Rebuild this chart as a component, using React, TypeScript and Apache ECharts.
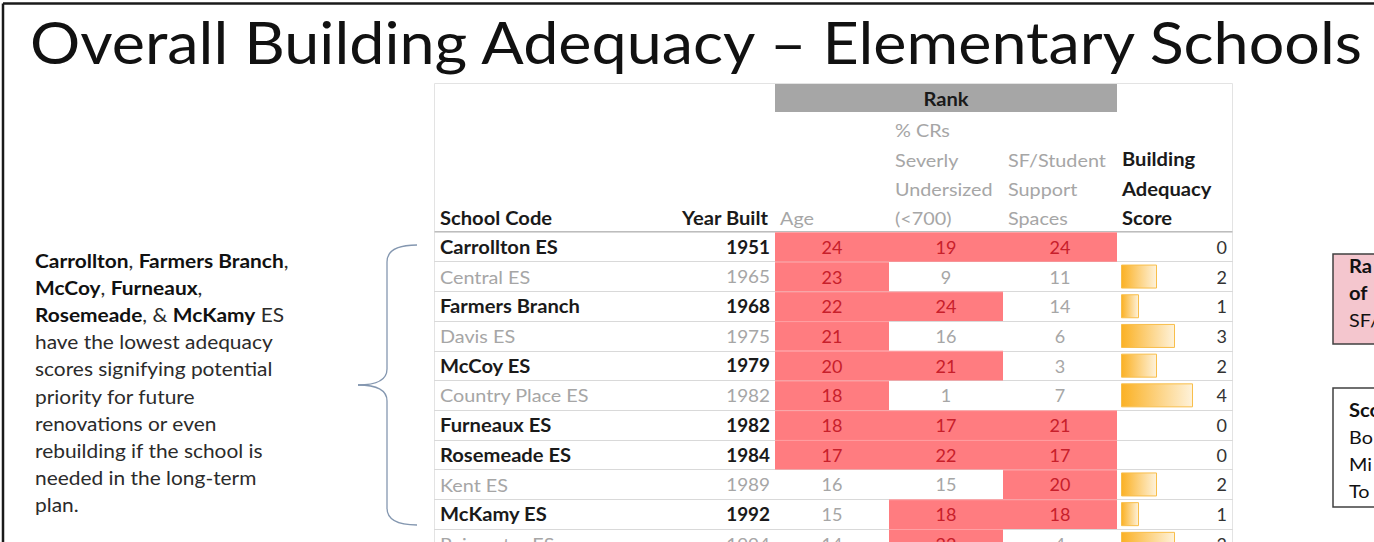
import React, { useEffect, useRef } from "react";
import * as echarts from "echarts";

// ---------- data ----------
const titleText = "Overall Building Adequacy \u2013 Elementary Schools";
const schools = [
  "Carrollton ES", "Central ES", "Farmers Branch", "Davis ES", "McCoy ES",
  "Country Place ES", "Furneaux ES", "Rosemeade ES", "Kent ES", "McKamy ES", "Rainwater ES",
];
const highlighted = [true, false, true, false, true, false, true, true, false, true, false];
const yearBuilt = [1951, 1965, 1968, 1975, 1979, 1982, 1982, 1984, 1989, 1992, 1994];
const ageRank = [24, 23, 22, 21, 20, 18, 18, 17, 16, 15, 14];
const crRank = [19, 9, 24, 16, 21, 1, 17, 22, 15, 18, 22];
const sfRank = [24, 11, 14, 6, 3, 7, 21, 17, 20, 18, 4];
const adequacyScore = [0, 2, 1, 3, 2, 4, 0, 0, 2, 1, 3];
const rankColumns = ["Age", "% CRs Severly Undersized (<700)", "SF/Student Support Spaces"];
const rankHeaderLines = [["Age"], ["% CRs", "Severly", "Undersized", "(<700)"], ["SF/Student", "Support", "Spaces"]];
const scoreHeaderLines = ["Building", "Adequacy", "Score"];
const rankThreshold = 17;
const scoreAxisMax = 6;
const noteLines: [string, boolean][][] = [
  [["Carrollton", true], [", ", false], ["Farmers Branch", true], [",", false]],
  [["McCoy", true], [", ", false], ["Furneaux", true], [",", false]],
  [["Rosemeade", true], [", & ", false], ["McKamy", true], [" ES", false]],
  [["have the lowest adequacy", false]],
  [["scores signifying potential", false]],
  [["priority for future", false]],
  [["renovations or even", false]],
  [["rebuilding if the school is", false]],
  [["needed in the long-term", false]],
  [["plan.", false]],
];
const box1Lines: [string, boolean][] = [["Ra", true], ["of", true], ["SF/", false]];
const box2Lines: [string, boolean][] = [["Sco", true], ["Bo", false], ["Mi", false], ["To", false]];

// ---------- layout ----------
const FONT = "Lato";
const ROW_TOP = 232;
const ROW_H = 29.7;
const GRID_H = ROW_H * schools.length;
const TEXT_DARK = "#1a1a1a";
const TEXT_GRAY = "#A6A6A6";
const RED_FILL = "#FF7C80";
const RED_TEXT = "#C8202B";
const FS = 18;
const SX_BOLD = 1.12;
const SX_REG = 1.1;

function ts(text: string, opts: any = {}) {
  const align = opts.align || "left";
  const va = opts.va || "middle";
  return {
    text,
    fill: opts.fill || TEXT_DARK,
    fontFamily: opts.family || FONT,
    fontSize: opts.size || FS,
    fontWeight: opts.weight || (opts.bold ? "bold" : "normal"),
    align,
    textAlign: align,
    verticalAlign: va,
    textVerticalAlign: va,
  };
}

function sx(opts: any) {
  if (opts.scaleX) return opts.scaleX;
  return opts.bold ? SX_BOLD : SX_REG;
}

function txt(x: number, y: number, text: string, opts: any = {}) {
  return { type: "text", x, y, scaleX: sx(opts), style: ts(text, opts), z: 10 };
}

export default function App() {
  const ref = useRef<HTMLDivElement>(null);

  useEffect(() => {
    document.body.style.margin = "0";
    const chart = echarts.init(ref.current!, null, { renderer: "svg" });

    const graphics: any[] = [];
    // slide border
    graphics.push({ type: "line", shape: { x1: 3, y1: 3.5, x2: 1374, y2: 3.5 }, style: { stroke: "#1a1a1a", lineWidth: 2.5 } });
    graphics.push({ type: "line", shape: { x1: 3, y1: 3.5, x2: 3, y2: 542 }, style: { stroke: "#1a1a1a", lineWidth: 2.5 } });
    // title
    graphics.push(txt(30, 41, titleText, { size: 58, fill: "#111", scaleX: 1.084 }));

    // note paragraph
    noteLines.forEach((parts, li) => {
      const rich: any = {
        b: { fontFamily: FONT, fontSize: 19, fontWeight: "bold", fill: "#111", color: "#111" },
        r: { fontFamily: FONT, fontSize: 19, fontWeight: "normal", fill: "#2b2b2b", color: "#2b2b2b" },
      };
      const text = parts.map(([s, b]) => `{${b ? "b" : "r"}|${s}}`).join("");
      graphics.push({
        type: "text", x: 35, y: 260 + li * 27.2, z: 10, scaleX: 1.1,
        style: { text, rich, align: "left", textAlign: "left", verticalAlign: "middle", textVerticalAlign: "middle", fontFamily: FONT, fontSize: 19 },
      });
    });

    // brace
    const brace = { stroke: "#8497B0", lineWidth: 1.3, fill: "none" };
    graphics.push({ type: "bezierCurve", shape: { x1: 417, y1: 245, x2: 387, y2: 262, cpx1: 387, cpy1: 245 }, style: brace });
    graphics.push({ type: "line", shape: { x1: 387, y1: 262, x2: 387, y2: 369 }, style: brace });
    graphics.push({ type: "bezierCurve", shape: { x1: 387, y1: 369, x2: 358, y2: 385, cpx1: 387, cpy1: 385 }, style: brace });
    graphics.push({ type: "bezierCurve", shape: { x1: 358, y1: 385, x2: 387, y2: 401, cpx1: 387, cpy1: 385 }, style: brace });
    graphics.push({ type: "line", shape: { x1: 387, y1: 401, x2: 387, y2: 508 }, style: brace });
    graphics.push({ type: "bezierCurve", shape: { x1: 387, y1: 508, x2: 417, y2: 525, cpx1: 387, cpy1: 525 }, style: brace });

    // table frame
    const frame = { stroke: "#E3E3E3", lineWidth: 1 };
    graphics.push({ type: "line", shape: { x1: 434.5, y1: 83.5, x2: 1232.5, y2: 83.5 }, style: frame });
    graphics.push({ type: "line", shape: { x1: 434.5, y1: 83.5, x2: 434.5, y2: 542 }, style: frame });
    graphics.push({ type: "line", shape: { x1: 1232.5, y1: 83.5, x2: 1232.5, y2: 542 }, style: frame });
    graphics.push({ type: "line", shape: { x1: 434.5, y1: ROW_TOP - 0.5, x2: 1232.5, y2: ROW_TOP - 0.5 }, style: { stroke: "#BDBDBD", lineWidth: 1 }, z: 5 });

    // rank header band
    graphics.push({ type: "rect", shape: { x: 775, y: 84, width: 342, height: 28 }, style: { fill: "#A6A6A6" } });
    graphics.push(txt(946, 99, "Rank", { bold: true, align: "center" }));

    const headerBottom = 218;
    const headerPitch = 29.3;
    graphics.push(txt(440, headerBottom, "School Code", { bold: true }));
    graphics.push(txt(768, headerBottom, "Year Built", { bold: true, align: "right" }));
    const rankHeaderX = [780, 895, 1008];
    rankHeaderLines.forEach((lines, ci) => {
      lines.forEach((s, k) => {
        graphics.push(txt(rankHeaderX[ci], headerBottom - (lines.length - 1 - k) * headerPitch, s, { fill: TEXT_GRAY }));
      });
    });
    scoreHeaderLines.forEach((s, k) => {
      graphics.push(txt(1122, headerBottom - (scoreHeaderLines.length - 1 - k) * headerPitch, s, { bold: true }));
    });

    // right-hand legend boxes (cut off by slide edge)
    graphics.push({ type: "rect", shape: { x: 1333, y: 254, width: 80, height: 90 }, style: { fill: "#F4C6CE", stroke: "#404040", lineWidth: 1.5 } });
    box1Lines.forEach(([s, b], k) => graphics.push(txt(1349, 266 + k * 27, s, { bold: b, fill: "#111" })));
    graphics.push({ type: "rect", shape: { x: 1333, y: 388, width: 80, height: 119 }, style: { fill: "#fff", stroke: "#404040", lineWidth: 1.5 } });
    box2Lines.forEach(([s, b], k) => graphics.push(txt(1349, 410 + k * 27, s, { bold: b, fill: "#111" })));

    const catY = (gridIndex: number, withLines = false) => ({
      gridIndex,
      type: "category",
      data: schools,
      inverse: true,
      show: withLines,
      axisLine: { show: false },
      axisTick: { show: false },
      axisLabel: { show: false },
      splitLine: { show: withLines, interval: 0, lineStyle: { color: "#D9D9D9", width: 1 } },
    });

    const rankCells: number[][] = [];
    [ageRank, crRank, sfRank].forEach((arr, c) => arr.forEach((v, i) => rankCells.push([c, i, v])));

    const gridBase = { top: ROW_TOP, height: GRID_H, outerBoundsMode: "none", containLabel: false };

    const option: any = {
      animation: false,
      backgroundColor: "#fff",
      grid: [
        { ...gridBase, left: 434, width: 799 },
        { ...gridBase, left: 435, width: 340 },
        { ...gridBase, left: 775, width: 342 },
        { ...gridBase, left: 1121, width: 108 },
      ],
      xAxis: [
        { gridIndex: 0, type: "value", min: 0, max: 1, show: false },
        { gridIndex: 1, type: "value", min: 0, max: 1, show: false },
        { gridIndex: 2, type: "category", data: rankColumns, show: false },
        { gridIndex: 3, type: "value", min: 0, max: scoreAxisMax, show: false },
      ],
      yAxis: [catY(0, true), catY(1), catY(2), catY(3)],
      graphic: { elements: graphics },
      series: [
        {
          type: "custom",
          xAxisIndex: 1,
          yAxisIndex: 1,
          data: schools.map((_, i) => [0, i, yearBuilt[i]]),
          encode: { x: 0, y: 1 },
          renderItem: (params: any, api: any) => {
            const i = api.value(1);
            const cs = params.coordSys;
            const y = api.coord([0, i])[1];
            const bold = highlighted[i];
            const fill = bold ? TEXT_DARK : TEXT_GRAY;
            return {
              type: "group",
              children: [
                { type: "text", x: cs.x + 5, y, scaleX: sx({ bold }), style: ts(schools[i], { bold, fill }) },
                { type: "text", x: cs.x + cs.width - 5, y, scaleX: 1.05, style: ts(String(api.value(2)), { bold, fill, align: "right" }) },
              ],
            };
          },
        },
        {
          type: "custom",
          xAxisIndex: 2,
          yAxisIndex: 2,
          data: rankCells,
          encode: { x: 0, y: 1 },
          renderItem: (params: any, api: any) => {
            const c = api.value(0);
            const i = api.value(1);
            const v = api.value(2);
            const p = api.coord([c, i]);
            const s = api.size([1, 1]);
            const hot = v >= rankThreshold;
            const children: any[] = [];
            if (hot) {
              children.push({ type: "rect", shape: { x: p[0] - s[0] / 2, y: p[1] - s[1] / 2, width: s[0], height: s[1] }, style: { fill: RED_FILL } });
              children.push({ type: "line", shape: { x1: p[0] - s[0] / 2, y1: p[1] - s[1] / 2 + 0.5, x2: p[0] + s[0] / 2, y2: p[1] - s[1] / 2 + 0.5 }, style: { stroke: "rgba(255,255,255,0.28)", lineWidth: 1 } });
            }
            children.push({ type: "text", x: p[0], y: p[1], style: ts(String(v), { fill: hot ? RED_TEXT : TEXT_GRAY, align: "center" }) });
            return { type: "group", children };
          },
        },
        {
          type: "bar",
          xAxisIndex: 3,
          yAxisIndex: 3,
          barWidth: 24,
          data: adequacyScore.map((v) => ({ value: v, itemStyle: v === 0 ? { borderWidth: 0 } : {} })),
          itemStyle: {
            color: new echarts.graphic.LinearGradient(0, 0, 1, 0, [
              { offset: 0, color: "#FBB124" },
              { offset: 1, color: "#FEF2DA" },
            ]),
            borderColor: "#F8BE4A",
            borderWidth: 1,
          },
        },
        {
          type: "custom",
          xAxisIndex: 3,
          yAxisIndex: 3,
          data: adequacyScore.map((v, i) => [scoreAxisMax, i, v]),
          encode: { x: 0, y: 1 },
          renderItem: (params: any, api: any) => {
            const p = api.coord([api.value(0), api.value(1)]);
            return { type: "text", x: p[0] - 2, y: p[1], style: ts(String(api.value(2)), { fill: "#333", align: "right" }) };
          },
        },
      ],
    };

    chart.setOption(option);
    return () => chart.dispose();
  }, []);

  return <div ref={ref} style={{ width: 1374, height: 542, background: "#fff" }} />;
}
